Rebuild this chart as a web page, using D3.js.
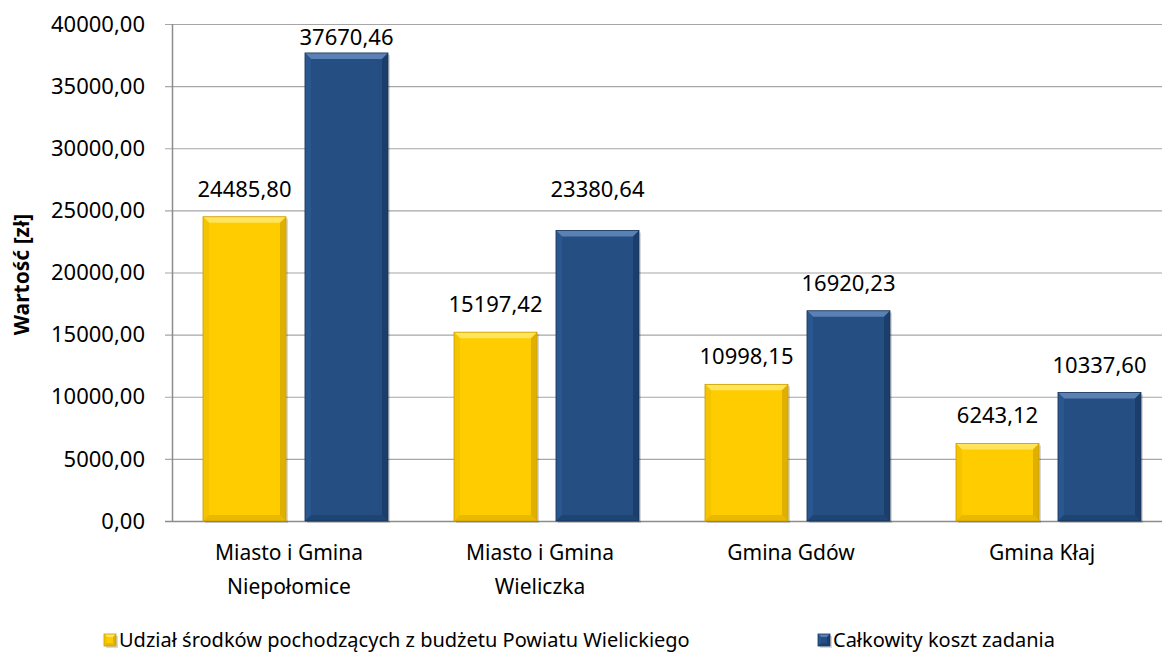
<!DOCTYPE html>
<meta charset="utf-8">
<style>
body { margin: 0; background: #fff; }
svg text { font-family: "Noto Sans", "Open Sans", sans-serif; fill: #000; }
</style>
<body>
<svg width="1162" height="656"></svg>
<script src="https://d3js.org/d3.v7.min.js"></script>
<script>

var categories = [["Miasto i Gmina", "Niepołomice"], ["Miasto i Gmina", "Wieliczka"], ["Gmina Gdów"], ["Gmina Kłaj"]];
var seriesNames = ["Udział środków pochodzących z budżetu Powiatu Wielickiego", "Całkowity koszt zadania"];
var udzial = [24485.80, 15197.42, 10998.15, 6243.12];
var calkowity = [37670.46, 23380.64, 16920.23, 10337.60];
var yTicks = [0, 5000, 10000, 15000, 20000, 25000, 30000, 35000, 40000];

var svg = d3.select("svg"),
    plotLeft = 172, plotRight = 1176, plotTop = 24, plotBottom = 521;

var fmt = function(v) { return v.toFixed(2).replace(".", ","); };

var x0 = d3.scaleBand().domain(d3.range(categories.length)).range([plotLeft, plotRight]);
var x1 = d3.scaleBand().domain([0, 1]).range([31, x0.bandwidth() - 35]).paddingInner(0.186);
var y = d3.scaleLinear().domain([0, 40000]).range([plotBottom, plotTop]);

var palette = [
  {main: "#ffcc00", light: "#ffe45c", dark: "#c99c00", side: "#f5c400"},
  {main: "#254f83", light: "#5b80b3", dark: "#16345a", side: "#2b5790"}
];

// gridlines
svg.append("g").selectAll("line").data(yTicks).enter().append("line")
    .attr("x1", plotLeft - 7).attr("x2", plotRight)
    .attr("y1", function(d) { return y(d) + 0.5; })
    .attr("y2", function(d) { return y(d) + 0.5; })
    .attr("stroke", function(d) { return d === 0 ? "#8c8c8c" : "#a6a6a6"; })
    .attr("stroke-width", function(d) { return d === 0 ? 1.5 : 1.2; });

svg.append("line")
    .attr("x1", plotLeft + 0.5).attr("x2", plotLeft + 0.5)
    .attr("y1", plotTop).attr("y2", plotBottom)
    .attr("stroke", "#8c8c8c").attr("stroke-width", 1.5);

svg.append("g").selectAll("text").data(yTicks).enter().append("text")
    .attr("x", plotLeft - 27)
    .attr("y", function(d) { return y(d); })
    .attr("dy", "0.35em")
    .attr("text-anchor", "end")
    .attr("font-size", 22)
    .text(fmt);

svg.append("text")
    .attr("transform", "translate(22," + ((plotTop + plotBottom) / 2 + 2) + ") rotate(-90)")
    .attr("text-anchor", "middle")
    .attr("dy", "0.35em")
    .attr("font-size", 21)
    .attr("font-weight", "bold")
    .text("Wartość [zł]");

var data = [];
udzial.forEach(function(v, i) { data.push({cat: i, s: 0, v: v}); });
calkowity.forEach(function(v, i) { data.push({cat: i, s: 1, v: v}); });

function bevelBar(g, x, yTop, w, h, c, b) {
  g.append("rect").attr("x", x + 2).attr("y", yTop + 2).attr("width", w).attr("height", h)
      .attr("fill", "#000").attr("opacity", 0.15);
  g.append("rect").attr("x", x).attr("y", yTop).attr("width", w).attr("height", h).attr("fill", c.main);
  var x2 = x + w, y2 = yTop + h;
  g.append("polygon").attr("points", [[x, yTop], [x2, yTop], [x2 - b, yTop + b], [x + b, yTop + b]].join(" "))
      .attr("fill", c.light);
  g.append("polygon").attr("points", [[x, yTop], [x + b, yTop + b], [x + b, y2 - b], [x, y2]].join(" "))
      .attr("fill", c.side);
  g.append("polygon").attr("points", [[x2, yTop], [x2, y2], [x2 - b, y2 - b], [x2 - b, yTop + b]].join(" "))
      .attr("fill", c.dark).attr("opacity", 0.6);
  g.append("polygon").attr("points", [[x, y2], [x2, y2], [x2 - b, y2 - b], [x + b, y2 - b]].join(" "))
      .attr("fill", c.dark).attr("opacity", 0.4);
  g.append("rect").attr("x", x).attr("y", yTop).attr("width", w).attr("height", h)
      .attr("fill", "none").attr("stroke", c.dark).attr("stroke-width", 0.8);
}

// label placement: Excel keeps a label inside the chart and one was dragged up
function labelY(d) {
  var ly = y(d.v) - 20;
  if (d.s === 1 && d.cat === 1) ly = y(udzial[0]) - 20;
  return Math.max(ly, 45);
}

var bars = svg.append("g");
data.forEach(function(d) {
  var bx = x0(d.cat) + x1(d.s), by = y(d.v);
  bevelBar(bars, bx, by, x1.bandwidth(), plotBottom - by, palette[d.s], 6);
  bars.append("text")
      .attr("x", bx + x1.bandwidth() / 2)
      .attr("y", labelY(d))
      .attr("text-anchor", "middle")
      .attr("font-size", 22)
      .text(fmt(d.v));
});

// category labels
var cat = svg.append("g").selectAll("text").data(categories).enter().append("text")
    .attr("x", function(d, i) { return x0(i) + 117; })
    .attr("y", 560)
    .attr("text-anchor", "middle")
    .attr("font-size", 21);
cat.selectAll("tspan").data(function(d) { return d; }).enter().append("tspan")
    .attr("x", function() { return d3.select(this.parentNode).attr("x"); })
    .attr("dy", function(d, i) { return i === 0 ? 0 : 34; })
    .text(function(d) { return d; });

// legend
var legendX = [104, 818];
var lg = svg.append("g").selectAll("g").data(seriesNames).enter().append("g")
    .attr("transform", function(d, i) { return "translate(" + legendX[i] + ",634)"; });
lg.each(function(d, i) {
  bevelBar(d3.select(this), 0, 0, 12, 12, palette[i], 3);
});
lg.append("text").attr("x", 15).attr("y", 6).attr("dy", "0.35em").attr("font-size", 20)
    .text(function(d) { return d; });

</script>
</body>
